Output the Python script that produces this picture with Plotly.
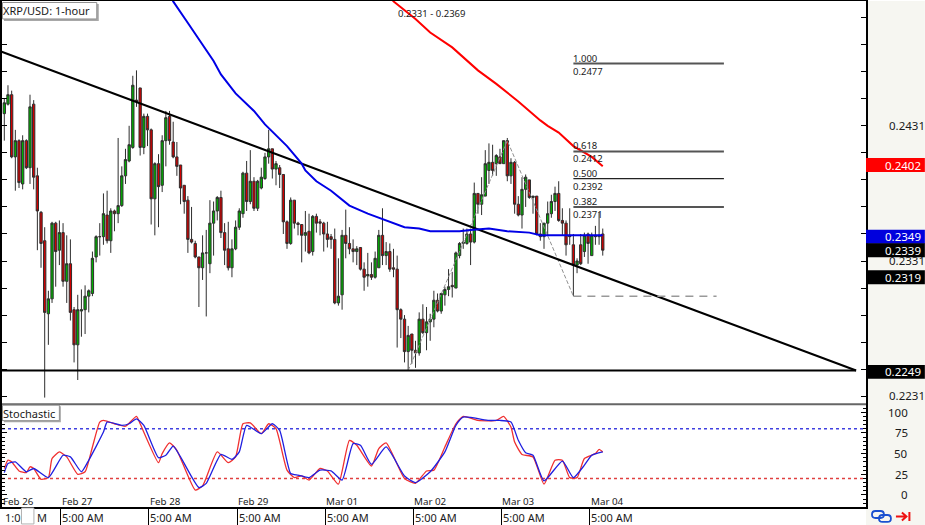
import plotly.graph_objects as go

FONT = "Noto Sans"

opens = [.2440,.2447,.2454,.2408,.2420,.2388,.2420,.2400,.2447,.2394,.2367,.2346,.2292,.2303,.2359,.2339,.2352,.2316,.2329,.2295,
         .2269,.2294,.2295,.2305,.2307,.2334,.2349,.2349,.2365,.2346,.2368,.2366,.2372,.2394,.2405,.2415,.2450,.2459,.2415,.2438,
         .2428,.2377,.2403,.2387,.2420,.2438,.2419,.2408,.2402,.2387,.2376,.2347,.2344,.2334,.2326,.2337,.2329,.2359,.2368,.2378,
         .2352,.2340,.2326,.2340,.2356,.2366,.2396,.2375,.2390,.2370,.2385,.2392,.2408,.2414,.2399,.2400,.2395,.2360,.2344,.2376,
         .2359,.2358,.2350,.2353,.2338,.2364,.2360,.2359,.2351,.2349,.2347,.2300,.2306,.2350,.2344,.2340,.2338,.2341,.2325,.2320,
         .2321,.2319,.2326,.2350,.2335,.2338,.2326,.2325,.2295,.2288,.2264,.2277,.2265,.2263,.2288,.2278,.2286,.2288,.2302,.2294,
         .2306,.2310,.2313,.2311,.2335,.2344,.2344,.2351,.2345,.2381,.2373,.2379,.2398,.2404,.2403,.2408,.2403,.2420,.2394,.2404,
         .2373,.2365,.2384,.2391,.2378,.2379,.2351,.2349,.2359,.2366,.2375,.2381,.2361,.2359,.2350,.2343,.2328,.2343,.2338,.2351,
         .2335,.2350,.2349,.2351]
highs = [.2451,.2461,.2457,.2428,.2421,.2424,.2421,.2454,.2450,.2400,.2368,.2356,.2309,.2360,.2360,.2361,.2359,.2350,.2347,.2297,
         .2306,.2310,.2313,.2310,.2338,.2350,.2359,.2381,.2383,.2370,.2369,.2422,.2401,.2414,.2431,.2468,.2472,.2459,.2440,.2440,
         .2429,.2404,.2410,.2424,.2442,.2442,.2434,.2419,.2402,.2387,.2379,.2371,.2346,.2334,.2350,.2354,.2376,.2375,.2379,.2383,
         .2359,.2360,.2347,.2361,.2370,.2397,.2405,.2413,.2393,.2391,.2400,.2411,.2428,.2414,.2405,.2402,.2395,.2361,.2378,.2376,
         .2360,.2358,.2368,.2366,.2365,.2366,.2362,.2360,.2360,.2351,.2355,.2333,.2354,.2369,.2356,.2347,.2342,.2341,.2330,.2337,
         .2330,.2338,.2354,.2370,.2345,.2344,.2340,.2335,.2296,.2291,.2283,.2277,.2272,.2293,.2299,.2297,.2292,.2309,.2307,.2307,
         .2312,.2325,.2323,.2338,.2345,.2355,.2355,.2355,.2389,.2381,.2393,.2413,.2418,.2417,.2410,.2414,.2420,.2422,.2407,.2405,
         .2379,.2393,.2395,.2391,.2379,.2379,.2359,.2359,.2375,.2380,.2386,.2390,.2370,.2361,.2370,.2351,.2333,.2351,.2352,.2352,
         .2352,.2357,.2367,.2355]
lows  = [.2420,.2446,.2407,.2383,.2385,.2384,.2399,.2388,.2384,.2339,.2326,.2230,.2269,.2300,.2312,.2328,.2312,.2300,.2287,.2256,
         .2243,.2275,.2277,.2293,.2305,.2330,.2335,.2343,.2344,.2337,.2353,.2359,.2371,.2388,.2404,.2414,.2445,.2409,.2410,.2416,
         .2358,.2350,.2356,.2382,.2401,.2417,.2407,.2394,.2373,.2366,.2337,.2344,.2333,.2297,.2317,.2290,.2322,.2335,.2361,.2348,
         .2328,.2324,.2319,.2339,.2354,.2363,.2368,.2373,.2368,.2368,.2384,.2391,.2403,.2392,.2387,.2385,.2351,.2340,.2343,.2355,
         .2350,.2330,.2338,.2336,.2335,.2352,.2350,.2338,.2341,.2340,.2299,.2298,.2295,.2333,.2336,.2330,.2328,.2324,.2309,.2312,
         .2317,.2318,.2326,.2328,.2328,.2323,.2319,.2267,.2274,.2256,.2250,.2255,.2252,.2261,.2277,.2265,.2272,.2282,.2293,.2292,
         .2298,.2305,.2304,.2311,.2333,.2340,.2343,.2328,.2344,.2366,.2365,.2379,.2388,.2394,.2394,.2403,.2403,.2390,.2388,.2366,
         .2364,.2355,.2371,.2377,.2366,.2350,.2346,.2340,.2350,.2363,.2368,.2360,.2350,.2335,.2343,.2305,.2322,.2328,.2334,.2329,
         .2335,.2343,.2343,.2335]
closes = [.2448,.2454,.2408,.2420,.2389,.2420,.2400,.2445,.2393,.2368,.2344,.2293,.2303,.2359,.2338,.2352,.2316,.2329,.2293,.2269,
          .2295,.2295,.2305,.2309,.2333,.2349,.2349,.2366,.2346,.2368,.2366,.2372,.2394,.2406,.2417,.2461,.2449,.2415,.2438,.2428,
          .2377,.2403,.2386,.2420,.2437,.2420,.2408,.2401,.2385,.2375,.2347,.2345,.2334,.2326,.2337,.2337,.2359,.2368,.2378,.2352,
          .2339,.2326,.2340,.2356,.2368,.2396,.2375,.2390,.2370,.2390,.2393,.2408,.2414,.2399,.2403,.2395,.2360,.2344,.2376,.2359,
          .2358,.2350,.2352,.2337,.2364,.2359,.2359,.2351,.2347,.2347,.2300,.2305,.2350,.2344,.2340,.2338,.2340,.2325,.2319,.2321,
          .2319,.2333,.2350,.2335,.2338,.2325,.2325,.2295,.2288,.2264,.2276,.2265,.2263,.2288,.2278,.2286,.2288,.2302,.2294,.2307,
          .2310,.2312,.2312,.2337,.2344,.2345,.2351,.2345,.2381,.2373,.2380,.2403,.2404,.2398,.2409,.2403,.2420,.2394,.2404,.2373,
          .2365,.2384,.2393,.2378,.2379,.2351,.2349,.2359,.2366,.2375,.2381,.2361,.2359,.2343,.2349,.2328,.2331,.2329,.2350,.2344,
          .2350,.2349,.2350,.2339]

blue_idx = [45,46,50,57,59,63,68,71,77,81,82,85,89,94,99,103,106,109,113,116,119,124,127,132,137,143,146,151,163]
blue_val = [.2529,.2523,.2507,.2479,.2469,.2455,.2442,.2432,.2416,.2403,.2398,.2390,.2383,.2372,.2366,.2362,.2359,.2356,.2355,.2353,.2353,.2353,.2354,.2355,.2353,.2352,.2350,.2350,.2350]
red_idx = [105,106,112,116,122,129,134,140,146,148,151,155,160,163]
red_val = [.2527,.2523,.2510,.2500,.2489,.2472,.2462,.2449,.2435,.2431,.2426,.2416,.2408,.2401]

trend_idx = [-1,232]
trend_val = [.2486,.2250]
support_idx = [-1,232]
support_val = [.2250,.2250]

zig_idx = [110,137,155]
zig_val = [.2250,.2420,.2305]

fib_start, fib_end, fib_low_end = 155,196,194
fib_ratio = ["1.000","0.618","0.500","0.382"]
fib_price = [.2477,.2412,.2392,.2371]
fib_low = .2305

stoch_k_idx = [0,1,2,4,6,7,8,10,12,13,15,17,20,22,24,26,27,30,33,36,37,42,43,45,47,52,54,58,61,63,65,67,70,72,74,77,79,81,83,86,88,91,94,96,100,102,104,109,112,115,117,120,123,125,129,134,136,138,139,141,144,147,150,152,154,156,158,161,162,163]
stoch_k = [32,42,40,29,27,34,32,19,21,44,52,46,25,28,58,88,90,86,83,95,86,39,50,63,54,6,11,52,39,46,86,87,74,86,80,30,21,23,18,32,29,13,66,60,35,56,63,20,14,29,30,58,86,95,90,90,95,82,64,49,46,13,42,42,21,21,44,50,55,52]
stoch_d_idx = [0,1,3,6,8,12,16,18,21,23,27,28,32,34,36,38,42,44,46,48,53,55,59,62,64,66,70,73,75,78,80,83,86,89,92,95,97,100,104,109,112,116,120,123,125,132,135,138,140,142,144,147,152,155,158,160,163]
stoch_d = [27,38,40,28,32,21,48,46,28,42,76,88,84,86,92,84,45,48,59,46,9,14,49,43,52,84,74,86,78,26,24,21,30,29,18,62,60,37,58,23,15,28,52,84,94,90,90,88,66,51,48,17,41,21,36,48,52]
stoch_over, stoch_under = 80, 20

price_ticks = [.2231,.2251,.2271,.2291,.2311,.2331,.2351,.2371,.2391,.2411,.2431,.2451,.2471,.2491,.2511]
price_ticktext = ["0.2231","","","","","0.2331","","","","","0.2431","","","",""]
price_tags = ["0.2402","0.2349","0.2339","0.2319","0.2249"]
tag_colors = ["#ff0000","#0000dd","#000000","#000000","#000000"]

time_ticks = [15.4,39.4,63.4,87.4,111.4,135.4,159.4]
time_labels = ["5:00 AM"]*7
date_labels = ["Feb 27","Feb 28","Feb 29","Mar 01","Mar 02","Mar 03","Mar 04"]

XR = [-0.63,234.7]
W,H = 925,525
PW,PH = 866,507
px = lambda v: v/PW
py = lambda v: 1-v/PH

fig = go.Figure()
fig.add_trace(go.Candlestick(x=list(range(len(opens))),open=opens,high=highs,low=lows,close=closes,
    increasing=dict(fillcolor="#00b000",line=dict(color="#2e2e2e",width=1)),
    decreasing=dict(fillcolor="#d00000",line=dict(color="#2e2e2e",width=1)),
    whiskerwidth=0,hoverinfo="skip",xaxis="x",yaxis="y"))
def line(x,y,color,width,dash="solid",xa="x",ya="y",shape="linear"):
    fig.add_trace(go.Scatter(x=x,y=y,mode="lines",line=dict(color=color,width=width,dash=dash,shape=shape,smoothing=0.5),hoverinfo="skip",xaxis=xa,yaxis=ya))
line(zig_idx,zig_val,"#909090",1,"4px,2px")
line(trend_idx,trend_val,"#000000",2.2)
line(support_idx,support_val,"#000000",2)
line(blue_idx,blue_val,"#0000e6",2)
line(red_idx,red_val,"#ff0000",2)
for p,w,c in zip(fib_price,[2,2,1.2,2],["#555555","#555555","#222222","#555555"]):
    line([fib_start,fib_end],[p,p],c,w)
line([fib_start,fib_low_end],[fib_low,fib_low],"#999999",1.5,"8px,6px")

line(XR,[stoch_over,stoch_over],"#4040e0",1.5,"dot","x2","y2")
line(XR,[stoch_under,stoch_under],"#e04040",1.5,"dot","x2","y2")
line(stoch_k_idx,stoch_k,"#f03030",1.3,"solid","x2","y2","spline")
line(stoch_d_idx,stoch_d,"#1f1fe0",1.3,"solid","x2","y2","spline")

ann = []
def text(s,x,y,size=11.5,color="#1a1a1a",xref="paper",yref="paper",xanchor="left",yanchor="middle",xshift=0,yshift=0,**k):
    ann.append(dict(text=s,x=x,y=y,xref=xref,yref=yref,xanchor=xanchor,yanchor=yanchor,xshift=xshift,yshift=yshift,
                    showarrow=False,font=dict(family=FONT,size=size,color=color),borderpad=0,**k))

shapes = [dict(type="rect",xref="paper",yref="paper",x0=px(866),x1=px(925),y0=py(525),y1=1,fillcolor="#f6f6f1",line_width=0,layer="below")]
shapes.append(dict(type="line",xref="paper",yref="paper",x0=0,x1=1,y0=py(404),y1=py(404),line=dict(color="#666666",width=2),layer="above"))

pscale = 13550.0
for s,col in zip(price_tags,tag_colors):
    v = float(s)
    shapes.append(dict(type="rect",xref="paper",yref="y",x0=px(866),x1=px(925),y0=v-7/pscale,y1=v+7/pscale,fillcolor=col,line_width=0,layer="above"))
    text(s,px(922.5),v,color="#ffffff",xanchor="right",yref="y")

for r,p in zip(fib_ratio,fib_price):
    text(r,fib_start,p,size=9.5,xref="x",yref="y",yshift=5.5,xshift=-1)
    text(f"{p:.4f}",fib_start,p,size=9.5,xref="x",yref="y",yshift=-7.5,xshift=-1)
text("0.2331 - 0.2369",px(396),py(13),size=9.5)

for v,x in zip(["100","75","50","25","0"],[100,75,50,25,0]):
    text(v,px(909),x,xanchor="right",yref="y2")

text("Feb 26",px(0.5),py(501),size=9.8)
for t,d,l in zip(time_ticks,date_labels,time_labels):
    text(d,t,py(501),size=9.8,xref="x2",xshift=0)
    text(l,t,py(518),size=11,xref="x2",xshift=0.5)
text("1:0",px(2),py(518),size=11)
text("M",px(34),py(518),size=11)
shapes.append(dict(type="rect",xref="paper",yref="paper",x0=px(19.5),x1=px(32),y0=py(524),y1=py(508),fillcolor="#ffffff",line=dict(color="#b0b0b0",width=1)))

shapes.append(dict(type="rect",xref="paper",yref="paper",x0=px(2),x1=px(97),y0=py(20),y1=py(3),fillcolor="#a8a8a8",line_width=0,layer="above"))
shapes.append(dict(type="rect",xref="paper",yref="paper",x0=px(0.5),x1=px(95),y0=py(18),y1=py(1.5),fillcolor="#ffffff",line=dict(color="#909090",width=1),layer="above"))
text("XRP/USD: 1-hour",px(0.5),py(10),size=11)
shapes.append(dict(type="rect",xref="paper",yref="paper",x0=px(2),x1=px(59),y0=py(422),y1=py(406),fillcolor="#a8a8a8",line_width=0,layer="above"))
shapes.append(dict(type="rect",xref="paper",yref="paper",x0=px(0.5),x1=px(57.5),y0=py(420.5),y1=py(405),fillcolor="#ffffff",line=dict(color="#909090",width=1),layer="above"))
text("Stochastic",px(0.5),py(413),size=11)

# link and go-to-end icons, drawn in paper units
def P(x,y):
    return f"{px(x):.5f},{py(y):.5f}"
def pill(x0,x1,y0,y1):
    r=(y1-y0)/2
    return (f"M{P(x0+r,y0)} L{P(x1-r,y0)} Q{P(x1,y0)} {P(x1,y0+r)} Q{P(x1,y1)} {P(x1-r,y1)} "
            f"L{P(x0+r,y1)} Q{P(x0,y1)} {P(x0,y0+r)} Q{P(x0,y0)} {P(x0+r,y0)} Z")
for box in [(872,884,511,518),(879,891,515,522)]:
    shapes.append(dict(type="path",xref="paper",yref="paper",path=pill(*box),line=dict(color="#1a50d0",width=1.8)))
shapes.append(dict(type="path",xref="paper",yref="paper",
    path=f"M{P(896,516.5)} L{P(906,516.5)} M{P(902,512.5)} L{P(906.5,516.5)} L{P(902,520.5)} M{P(909.5,512)} L{P(909.5,521)}",
    line=dict(color="#ee1111",width=2)))

fig.update_layout(
    width=W,height=H,margin=dict(l=0,r=59,t=0,b=18,pad=0),
    paper_bgcolor="#ffffff",plot_bgcolor="#ffffff",showlegend=False,boxgap=0.1,
    font=dict(family=FONT,size=11.5,color="#1a1a1a"),
    annotations=ann,shapes=shapes,
    xaxis=dict(domain=[0,1],range=XR,anchor="y",showgrid=False,zeroline=False,showticklabels=False,ticks="",rangeslider=dict(visible=False),
               showline=True,linecolor="#000000",linewidth=1,mirror=True),
    yaxis=dict(domain=[1-404/PH,1],range=[.22251,.25233],side="right",anchor="x",showgrid=False,zeroline=False,
               tickvals=price_ticks,ticktext=price_ticktext,ticks="inside",ticklen=5,tickcolor="#000000",tickwidth=1,
               ticklabelstandoff=19,tickfont=dict(family=FONT,size=11.5,color="#1a1a1a"),
               showline=True,linecolor="#000000",linewidth=1.5,mirror="ticks"),
    xaxis2=dict(domain=[0,1],range=XR,anchor="y2",showgrid=False,zeroline=False,showticklabels=False,
                tickvals=time_ticks,ticks="outside",ticklen=18,tickcolor="#000000",tickwidth=1,
                showline=True,linecolor="#000000",linewidth=1.5),
    yaxis2=dict(domain=[0,102/PH],range=[-14.5,108.4],side="right",anchor="x2",showgrid=False,zeroline=False,showticklabels=False,
                tickmode="linear",tick0=0,dtick=25,ticks="inside",ticklen=5,tickcolor="#000000",
                minor=dict(tick0=0,dtick=5,ticks="inside",ticklen=3,tickcolor="#000000"),
                showline=True,linecolor="#000000",linewidth=1.5,mirror="ticks"),
)
fig.write_html("out.html",config=dict(displayModeBar=False),post_script="document.body.style.margin='0';")
